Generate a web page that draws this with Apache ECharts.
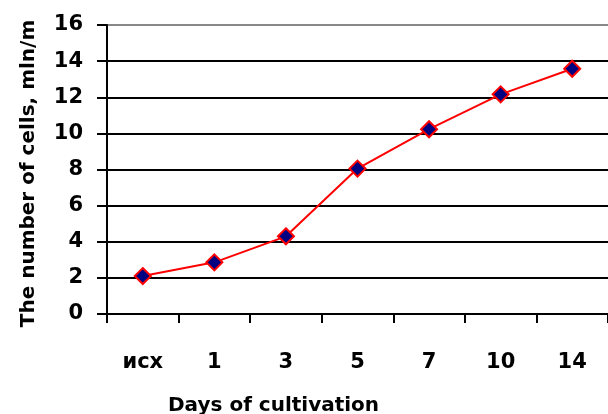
<!DOCTYPE html>
<html>
<head>
<meta charset="utf-8">
<script src="https://cdn.jsdelivr.net/npm/echarts@6/dist/echarts.min.js"></script>
<style>
  html, body { margin: 0; padding: 0; background: #fff; }
  #chart { width: 608px; height: 414px; }
</style>
</head>
<body>
<div id="chart"></div>
<script>
// 数据
var days = ['исх', '1', '3', '5', '7', '10', '14'];
var cells = [2.1, 2.86, 4.3, 8.05, 10.23, 12.16, 13.58];
var yTicks = [0, 16, 2];

var chart = echarts.init(document.getElementById('chart'));
var font = '"DejaVu Sans", sans-serif';

var option = {
    backgroundColor: '#fff',
    animation: false,
    title: {
        text: 'Days of cultivation',
        left: 163,
        top: 391,
        textStyle: { fontFamily: font, fontSize: 20, fontWeight: 'bold', color: '#000' }
    },
    grid: { left: 107, top: 25, right: -10, bottom: 100 },
    xAxis: {
        type: 'category',
        data: days,
        boundaryGap: true,
        axisLine: { lineStyle: { color: '#000', width: 2 } },
        axisTick: { show: true, length: 9, lineStyle: { color: '#000', width: 2 } },
        axisLabel: { margin: 38, fontFamily: font, fontSize: 21, fontWeight: 'bold', color: '#000' }
    },
    yAxis: {
        type: 'value',
        min: yTicks[0],
        max: yTicks[1],
        interval: yTicks[2],
        name: 'The number of cells, mln/m',
        nameLocation: 'middle',
        nameGap: 68,
        nameTextStyle: { fontFamily: font, fontSize: 20, fontWeight: 'bold', color: '#000', padding: [0, 0, 0, -8] },
        axisLine: { show: true, lineStyle: { color: '#000', width: 2 } },
        axisTick: { show: true, length: 10, lineStyle: { color: '#000', width: 2 } },
        axisLabel: { margin: 24, fontFamily: font, fontSize: 21, fontWeight: 'bold', color: '#000' },
        splitLine: {
            show: true,
            lineStyle: {
                width: 2,
                color: ['#000', '#000', '#000', '#000', '#000', '#000', '#000', '#000', '#888']
            }
        }
    },
    series: [{
        name: 'cells',
        type: 'line',
        data: cells,
        symbol: 'diamond',
        symbolSize: 16,
        lineStyle: { color: '#ff0000', width: 2 },
        itemStyle: { color: '#000080', borderColor: '#ff0000', borderWidth: 2 }
    }]
};

chart.setOption(option);
</script>
</body>
</html>
